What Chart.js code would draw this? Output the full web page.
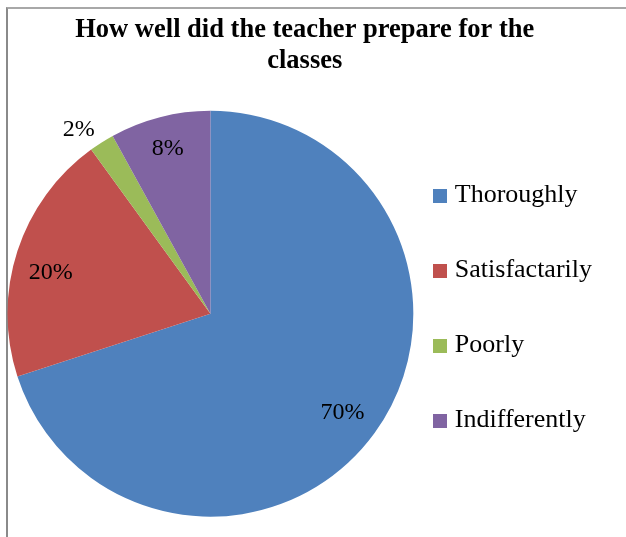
<!DOCTYPE html>
<html>
<head>
<meta charset="utf-8">
<script src="https://cdn.jsdelivr.net/npm/chart.js@4"></script>
<style>
  html, body { margin: 0; padding: 0; background: #ffffff; }
  #wrap { position: relative; width: 626px; height: 537px; overflow: hidden; }
  #frame { position: absolute; left: 6px; top: 7px; width: 700px; height: 700px;
           border-left: 2px solid #8a8a8a; border-top: 2px solid #a8a8a8; box-sizing: border-box; }
  #c { position: absolute; left: 0; top: 0; }
</style>
</head>
<body>
<div id="wrap">
  <div id="frame"></div>
  <canvas id="c" width="626" height="537"></canvas>
</div>
<script>
const titleLines = ['How well did the teacher prepare for the', 'classes'];
const categories = ['Thoroughly', 'Satisfactarily', 'Poorly', 'Indifferently'];
const values = [70, 20, 2, 8];
const sliceColors = ['#4F81BD', '#C0504D', '#9BBB59', '#8064A2'];
const valueLabels = ['70%', '20%', '2%', '8%'];

// label placement: radial fraction of outer radius and angular nudge (degrees)
const labelPlacement = [
  { r: 0.81, a: 0.5 },
  { r: 0.815, a: -3 },
  { r: 1.12, a: -3 },
  { r: 0.847, a: 0 }
];

function swatch(color) {
  const s = document.createElement('canvas');
  s.width = 14; s.height = 14;
  const g = s.getContext('2d');
  g.fillStyle = color;
  g.fillRect(0, 0, 14, 14);
  return s;
}

const pieLabels = {
  id: 'pieLabels',
  afterDatasetsDraw(chart) {
    const ctx = chart.ctx;
    const meta = chart.getDatasetMeta(0);
    ctx.save();
    ctx.font = '24px "Liberation Serif"';
    ctx.fillStyle = '#000000';
    ctx.textAlign = 'center';
    ctx.textBaseline = 'middle';
    meta.data.forEach((arc, i) => {
      const p = arc.getProps(['x', 'y', 'startAngle', 'endAngle', 'outerRadius'], true);
      const pl = labelPlacement[i];
      const mid = (p.startAngle + p.endAngle) / 2 + pl.a * Math.PI / 180;
      const r = p.outerRadius * pl.r;
      ctx.fillText(valueLabels[i], p.x + Math.cos(mid) * r, p.y + Math.sin(mid) * r + 1.5);
    });
    ctx.restore();
  }
};

new Chart(document.getElementById('c'), {
  type: 'pie',
  data: {
    labels: categories.map(c => [c]),
    datasets: [{
      data: values,
      backgroundColor: sliceColors,
      borderWidth: 0,
      hoverOffset: 0
    }]
  },
  options: {
    responsive: false,
    animation: false,
    layout: { padding: { left: 7.5, right: 24, top: 0, bottom: 19.5 } },
    plugins: {
      title: {
        display: true,
        text: titleLines,
        color: '#000000',
        font: { family: '"Liberation Serif"', size: 26.5, weight: 'bold', lineHeight: '30.5px' },
        padding: { top: 15, bottom: 34 }
      },
      legend: {
        display: true,
        position: 'right',
        align: 'center',
        fullSize: false,
        title: { display: true, text: ' ', font: { size: 8, lineHeight: '13px' }, padding: 0 },
        labels: {
          color: '#000000',
          font: { family: '"Liberation Serif"', size: 26, lineHeight: '50.5px' },
          usePointStyle: true,
          pointStyleWidth: 4,
          boxHeight: 14,
          padding: 24.5,
          generateLabels(chart) {
            const base = Chart.overrides.pie.plugins.legend.labels.generateLabels(chart);
            return base.map((item, i) => Object.assign(item, { pointStyle: swatch(sliceColors[i]) }));
          }
        }
      },
      tooltip: { enabled: false }
    }
  },
  plugins: [pieLabels]
});
</script>
</body>
</html>
